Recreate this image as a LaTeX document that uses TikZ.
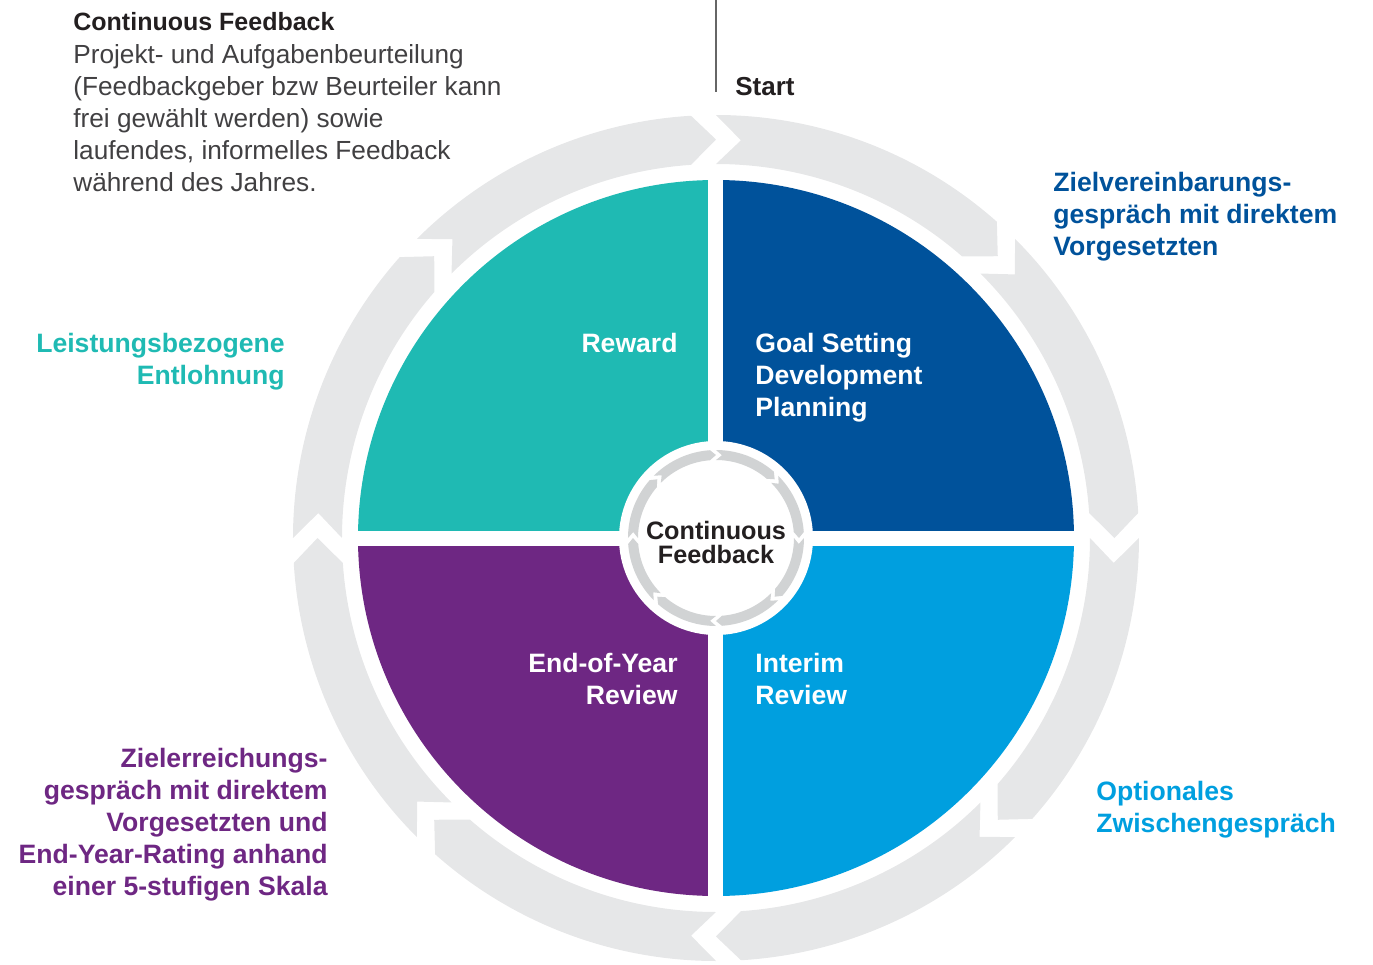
\documentclass[tikz,border=0pt]{standalone}
\usepackage{fontspec}
\setmainfont{Liberation Sans}

\definecolor{rewardteal}{RGB}{31,186,179}
\definecolor{goalblue}{RGB}{0,82,155}
\definecolor{interimblue}{RGB}{0,159,223}
\definecolor{reviewpurple}{RGB}{110,39,131}
\definecolor{ringgrey}{RGB}{230,231,232}
\definecolor{feedbackgrey}{RGB}{209,211,212}
\definecolor{headblack}{RGB}{35,31,32}
\definecolor{notegrey}{RGB}{65,64,66}

\tikzset{
	quad/.style = {inner sep = 0, text = white, font = \fontsize{13.3}{16}\selectfont\bfseries},
	phase/.style = {inner sep = 0, font = \fontsize{13.3}{16}\selectfont\bfseries},
	notehead/.style = {inner sep = 0, text = headblack, font = \fontsize{12.5}{16}\selectfont\bfseries},
	notetext/.style = {inner sep = 0, text = notegrey, align = left, font = \fontsize{13.1}{16}\selectfont},
	startlabel/.style = {inner sep = 0, text = headblack, font = \fontsize{13}{16}\selectfont\bfseries},
	hub/.style = {inner sep = 0, text = headblack, align = center, font = \fontsize{12.6}{12}\selectfont\bfseries},
	startline/.style = {draw = black!60, line width = 1.25pt}
}

\begin{document}
\begin{tikzpicture}[x = 0.5pt, y = 0.5pt]
		\useasboundingbox (-716,-427) rectangle (657,538);
		% outer cycle: eight arrows, clockwise
		\foreach \ang in {90,45,...,-225}{
			\fill[ringgrey] (\ang:423) -- ({\ang-3.59}:398.5) -- (\ang:374)
				arc[start angle = \ang, end angle = \ang-41.17, radius = 374]
				-- ({\ang-45}:398.5) -- ({\ang-41.61}:423)
				arc[start angle = \ang-41.61, end angle = \ang, radius = 423] -- cycle;
		}
		%
		\fill[goalblue] (0,0) -- (0:358) arc[start angle = 0, end angle = 90, radius = 358] -- cycle;
		\fill[rewardteal] (0,0) -- (90:358) arc[start angle = 90, end angle = 180, radius = 358] -- cycle;
		\fill[reviewpurple] (0,0) -- (180:358) arc[start angle = 180, end angle = 270, radius = 358] -- cycle;
		\fill[interimblue] (0,0) -- (270:358) arc[start angle = 270, end angle = 360, radius = 358] -- cycle;
		\draw[white, line width = 7.5pt] (-365,0) -- (365,0) (0,-365) -- (0,365);
		\fill[white] (0,0) circle[radius = 97];
		% inner cycle
		\foreach \ang in {90,45,...,-225}{
			\fill[feedbackgrey] (\ang:88) -- ({\ang-4.14}:83) -- (\ang:78)
				arc[start angle = \ang, end angle = \ang-40.59, radius = 78]
				-- ({\ang-45}:83) -- ({\ang-41.09}:88)
				arc[start angle = \ang-41.09, end angle = \ang, radius = 88] -- cycle;
		}
		%
		\coordinate (linetop) at (0,540);
		\coordinate (lineend) at (0,446);
		\draw[startline] (linetop) -- (lineend);
		\node (start)[startlabel, anchor = base west] at (19,443) {Start};
		% base anchors sit on the last line
		\node (fbhead)[notehead, anchor = base west] at (-643,507) {Continuous Feedback};
		\node (fbtext)[notetext, anchor = base west] at (-643,347) {Projekt- und Aufgabenbeurteilung\\(Feedbackgeber bzw Beurteiler kann\\frei gewählt werden) sowie\\laufendes, informelles Feedback\\während des Jahres.};
		%
		\node (goalnote)[phase, text = goalblue, align = left, anchor = base west] at (337,283) {Zielvereinbarungs-\\gespräch mit direktem\\Vorgesetzten};
		\node (rewardnote)[phase, text = rewardteal, align = right, anchor = base east] at (-431,154) {Leistungsbezogene\\Entlohnung};
		\node (interimnote)[phase, text = interimblue, align = left, anchor = base west] at (380,-294) {Optionales\\Zwischengespräch};
		\node (reviewnote)[phase, text = reviewpurple, align = right, anchor = base east] at (-388,-357) {Zielerreichungs-\\gespräch mit direktem\\Vorgesetzten und\\End-Year-Rating anhand\\einer 5-stufigen Skala};
		%
		\node (reward)[quad, align = right, anchor = base east] at (-38,186) {Reward};
		\node (goal)[quad, align = left, anchor = base west] at (39,122) {Goal Setting\\Development\\Planning};
		\node (review)[quad, align = right, anchor = base east] at (-38,-166) {End-of-Year\\Review};
		\node (interim)[quad, align = left, anchor = base west] at (39,-166) {Interim\\Review};
		\node (feedback)[hub, anchor = base] at (0,-25) {Continuous\\Feedback};
	\end{tikzpicture}
\end{document}
